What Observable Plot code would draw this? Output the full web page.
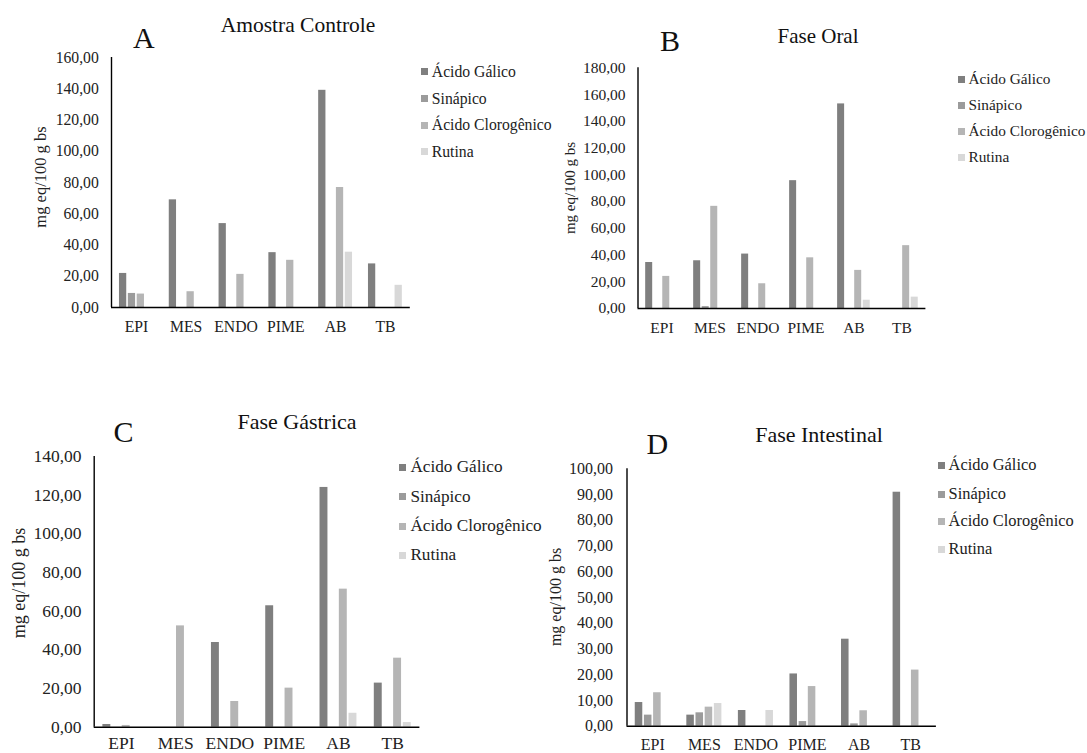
<!DOCTYPE html>
<html><head><meta charset="utf-8">
<script src="https://cdn.jsdelivr.net/npm/d3@7"></script>
<script src="https://cdn.jsdelivr.net/npm/@observablehq/plot@0.6"></script>
<style>
body{margin:0;background:#fff;}
#root{position:relative;width:1087px;height:753px;overflow:hidden;font-family:"Liberation Serif",serif;color:#222;}
#root *, #root svg text{font-family:"Liberation Serif",serif !important;}
.abs{position:absolute;white-space:nowrap;line-height:1;}
.ylab{transform:translate(-50%,-50%) rotate(-90deg);}
.title{transform:translateX(-50%);}
.lrow{position:absolute;display:flex;align-items:center;white-space:nowrap;line-height:1;}
.sw{width:7px;height:7px;margin-right:4px;flex:none;}
svg{overflow:visible;}
</style></head><body><div id="root"></div>
<script>
// ---------- data ----------
const categories = ["EPI", "MES", "ENDO", "PIME", "AB", "TB"];
const series = ["Ácido Gálico", "Sinápico", "Ácido Clorogênico", "Rutina"];
const colors = ["#7f7f7f", "#9b9b9b", "#b5b5b5", "#d8d8d8"];
const yLabel = "mg eq/100 g bs";

// A — Amostra Controle (per series, across categories)
const controleGalico      = [21.8, 68.9, 53.7, 35.1, 139.0, 27.9];
const controleSinapico    = [9.0, 0, 0, 0, 0, 0];
const controleClorogenico = [8.6, 10.1, 21.2, 30.2, 76.8, 0];
const controleRutina      = [0, 0, 0, 0, 35.4, 14.2];
const controleTicks = [0, 20, 40, 60, 80, 100, 120, 140, 160];

// B — Fase Oral
const oralGalico      = [34.4, 35.7, 40.7, 95.6, 153.0, 0];
const oralSinapico    = [0, 1.4, 0, 0, 0, 0];
const oralClorogenico = [24.0, 76.4, 18.5, 37.9, 28.5, 47.0];
const oralRutina      = [0, 0, 0, 0, 6.2, 8.5];
const oralTicks = [0, 20, 40, 60, 80, 100, 120, 140, 160, 180];

// C — Fase Gástrica
const gastricaGalico      = [1.4, 0, 43.8, 62.8, 124.0, 22.8];
const gastricaSinapico    = [0, 0, 0, 0, 0, 0];
const gastricaClorogenico = [0.9, 52.4, 13.3, 20.2, 71.4, 35.7];
const gastricaRutina      = [0, 0, 0, 0, 7.2, 2.4];
const gastricaTicks = [0, 20, 40, 60, 80, 100, 120, 140];

// D — Fase Intestinal
const intestinalGalico      = [9.2, 4.3, 6.1, 20.3, 33.8, 90.9];
const intestinalSinapico    = [4.3, 5.2, 0, 1.8, 0.9, 0];
const intestinalClorogenico = [13.0, 7.4, 0, 15.4, 6.0, 21.8];
const intestinalRutina      = [0, 8.8, 6.1, 0, 0, 0];
const intestinalTicks = [0, 10, 20, 30, 40, 50, 60, 70, 80, 90, 100];

// ---------- layout ----------
const FONT = '"Liberation Serif", serif';
const GROUP_START = 0.16, PITCH = 0.178, BAR_W = 0.146;
const root = document.getElementById("root");

function el(cls, text, css) {
  const d = document.createElement("div");
  d.className = cls;
  d.textContent = text;
  Object.assign(d.style, css);
  root.appendChild(d);
  return d;
}

function panel(cfg) {
  const data = [];
  series.forEach((s, si) => cfg.values[si].forEach((v, ci) => {
    if (v > 0) data.push({cat: categories[ci], ci, s, si, v});
  }));
  const plot = Plot.plot({
    width: cfg.w, height: cfg.h,
    marginLeft: cfg.ml, marginRight: cfg.mr, marginTop: cfg.mt, marginBottom: cfg.mb,
    style: {fontFamily: FONT, fontSize: cfg.fs + "px", color: "#222", background: "transparent", overflow: "visible"},
    x: {domain: [0, categories.length], ticks: categories.map((d, i) => i + 0.5),
        tickFormat: d => categories[Math.floor(d)], tickSize: 0, tickPadding: cfg.xPad, label: null},
    y: {domain: [0, cfg.ticks[cfg.ticks.length - 1]], ticks: cfg.ticks,
        tickFormat: d => d.toFixed(2).replace(".", ","), tickSize: 0, tickPadding: cfg.yPad, label: null},
    color: {domain: series, range: colors},
    marks: [
      Plot.rect(data, {
        x1: d => d.ci + GROUP_START + d.si * PITCH,
        x2: d => d.ci + GROUP_START + d.si * PITCH + BAR_W,
        y1: 0, y2: "v", fill: "s"
      }),
      Plot.ruleY([0], {stroke: "#000", strokeWidth: 1.4}),
      Plot.ruleX([0], {stroke: "#000", strokeWidth: 1.4})
    ]
  });
  plot.setAttribute("font-family", FONT);
  const wrap = document.createElement("div");
  wrap.style.position = "absolute";
  wrap.style.left = cfg.left + "px";
  wrap.style.top = cfg.top + "px";
  wrap.appendChild(plot);
  root.appendChild(wrap);

  // title and panel letter (positioned by baseline)
  el("abs title", cfg.title, {left: cfg.titleX + "px", top: (cfg.titleBase - 0.8375 * cfg.titleFs) + "px", fontSize: cfg.titleFs + "px", color: "#111"});
  el("abs", cfg.letter, {left: cfg.letterX + "px", top: (cfg.letterBase - 0.8375 * 30) + "px", fontSize: "30px", color: "#111"});
  // y label
  el("abs ylab", yLabel, {left: cfg.ylX + "px", top: cfg.ylY + "px", fontSize: cfg.ylFs + "px"});
  // legend
  series.forEach((s, i) => {
    const row = document.createElement("div");
    row.className = "lrow";
    row.style.left = cfg.legX + "px";
    row.style.top = (cfg.legY[i] - 10) + "px";
    row.style.height = "20px";
    row.style.fontSize = cfg.legFs + "px";
    const sw = document.createElement("span");
    sw.className = "sw";
    sw.style.background = colors[i];
    const t = document.createElement("span");
    t.textContent = s;
    row.appendChild(sw); row.appendChild(t);
    root.appendChild(row);
  });
}

panel({
  values: [controleGalico, controleSinapico, controleClorogenico, controleRutina], ticks: controleTicks,
  left: 0, top: 40, w: 412, h: 310, ml: 111, mr: 2.2, mt: 17, mb: 43, fs: 15.7, xPad: 13, yPad: 12.7,
  title: "Amostra  Controle", titleX: 298, titleBase: 32.7, titleFs: 21.5,
  letter: "A", letterX: 133, letterBase: 48,
  ylX: 41.3, ylY: 177, ylFs: 16.5,
  legX: 420.8, legY: [71.5, 98.5, 125, 151.5], legFs: 15.7
});
panel({
  values: [oralGalico, oralSinapico, oralClorogenico, oralRutina], ticks: oralTicks,
  left: 540, top: 50, w: 390, h: 300, ml: 97.5, mr: 4.6, mt: 17.3, mb: 42, fs: 15.5, xPad: 13, yPad: 12.5,
  title: "Fase  Oral", titleX: 818, titleBase: 43.3, titleFs: 21,
  letter: "B", letterX: 660, letterBase: 50.7,
  ylX: 570, ylY: 188, ylFs: 15,
  legX: 957.5, legY: [79, 105, 131, 157], legFs: 15.3
});
panel({
  values: [gastricaGalico, gastricaSinapico, gastricaClorogenico, gastricaRutina], ticks: gastricaTicks,
  left: 0, top: 440, w: 422, h: 313, ml: 93.7, mr: 2.6, mt: 16, mb: 26.3, fs: 17.5, xPad: 9.5, yPad: 12.7,
  title: "Fase  Gástrica", titleX: 297, titleBase: 429.3, titleFs: 22,
  letter: "C", letterX: 113.6, letterBase: 441.7,
  ylX: 19, ylY: 583.3, ylFs: 18,
  legX: 399.4, legY: [467, 496.7, 526, 555], legFs: 17.2
});
panel({
  values: [intestinalGalico, intestinalSinapico, intestinalClorogenico, intestinalRutina], ticks: intestinalTicks,
  left: 540, top: 450, w: 400, h: 303, ml: 86.5, mr: 4.1, mt: 18.3, mb: 27.3, fs: 16, xPad: 12.5, yPad: 14,
  title: "Fase  Intestinal", titleX: 819, titleBase: 442.3, titleFs: 22,
  letter: "D", letterX: 646.4, letterBase: 454,
  ylX: 555.7, ylY: 596.7, ylFs: 16,
  legX: 937.6, legY: [465.7, 494, 521.7, 549.3], legFs: 16.4
});
</script></body></html>
